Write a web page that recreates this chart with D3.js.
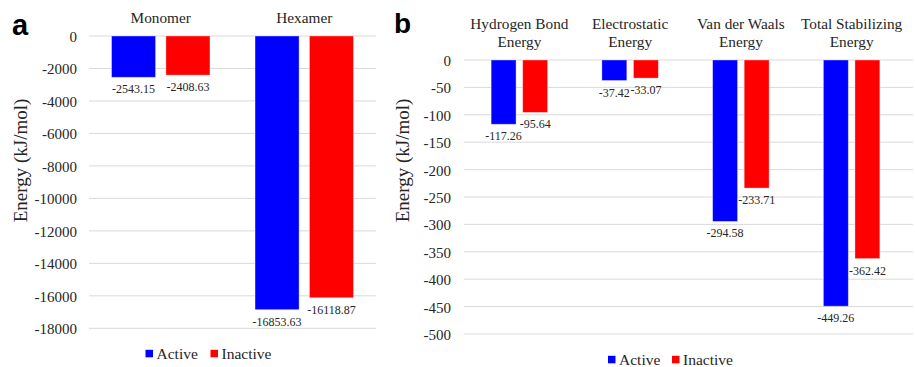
<!DOCTYPE html>
<html>
<head>
<meta charset="utf-8">
<script src="https://cdn.jsdelivr.net/npm/d3@7/dist/d3.min.js"></script>
<style>
  html, body { margin: 0; padding: 0; background: #fff; }
  svg { display: block; }
  svg text { font-family: "Liberation Serif", "Times New Roman", Times, serif; fill: #262626; }
  svg text.panel-tag { font-family: "Liberation Sans", Arial, Helvetica, sans-serif; font-weight: bold; fill: #000; }
</style>
</head>
<body>
<svg id="chart" width="915" height="367"></svg>
<script>
// Series shared by both panels
const series = ["Active", "Inactive"];
const seriesColors = ["#0000ff", "#ff0000"];

// Panel a: total binding energy by oligomeric state
const categoriesA = ["Monomer", "Hexamer"];
const activeA = [-2543.15, -16853.63];
const inactiveA = [-2408.63, -16118.87];
const ticksA = [0, -2000, -4000, -6000, -8000, -10000, -12000, -14000, -16000, -18000];

// Panel b: energy components
const categoriesB = [["Hydrogen Bond", "Energy"], ["Electrostatic", "Energy"], ["Van der Waals", "Energy"], ["Total Stabilizing", "Energy"]];
const activeB = [-117.26, -37.42, -294.58, -449.26];
const inactiveB = [-95.64, -33.07, -233.71, -362.42];
const ticksB = [0, -50, -100, -150, -200, -250, -300, -350, -400, -450, -500];

const svg = d3.select("#chart");
const SERIF = '"Liberation Serif", "Times New Roman", Times, serif';

function drawPanel(cfg) {
  const g = svg.append("g");
  const names = cfg.categories.map(c => Array.isArray(c) ? c.join(" ") : c);

  const y = d3.scaleLinear().domain([0, cfg.ticks[cfg.ticks.length - 1]]).range([cfg.top, cfg.bottom]);
  const x = d3.scaleBand().domain(names).range([cfg.left, cfg.right]).padding(0);
  const bw = x.bandwidth();
  const pad = bw * cfg.groupPad;
  const xs = d3.scaleBand().domain(series).range([pad, bw - pad]).paddingInner(cfg.innerPad).paddingOuter(0);

  // gridlines
  g.append("g").selectAll("line").data(cfg.ticks).join("line")
    .attr("x1", cfg.left).attr("x2", cfg.gridRight)
    .attr("y1", d => y(d)).attr("y2", d => y(d))
    .attr("stroke", "#d9d9d9").attr("stroke-width", 1);

  // y axis labels via d3 axis, domain and tick marks hidden
  const axis = d3.axisLeft(y).tickValues(cfg.ticks).tickFormat(d => String(d)).tickSize(0).tickPadding(0);
  const ag = g.append("g").attr("transform", `translate(${cfg.tickX},0)`).call(axis);
  ag.attr("font-family", null).attr("font-size", null);
  ag.select(".domain").remove();
  ag.selectAll("text").style("font-family", SERIF)
    .style("font-size", "15px").attr("fill", "#262626").attr("dy", "0.36em");

  // axis title
  g.append("text")
    .attr("transform", `translate(${cfg.titleX},${cfg.titleY}) rotate(-90)`)
    .attr("text-anchor", "middle").attr("dy", "0.35em")
    .style("font-size", "19px").text("Energy (kJ/mol)");

  // category headers
  cfg.categories.forEach((c, i) => {
    const lines = Array.isArray(c) ? c : [c];
    const cx = x(names[i]) + bw / 2;
    lines.forEach((ln, j) => {
      g.append("text").attr("x", cx).attr("y", cfg.headerY + j * cfg.headerLH)
        .attr("text-anchor", "middle").style("font-size", "15.3px").text(ln);
    });
  });

  // bars and value labels
  const rows = [];
  names.forEach((n, i) => {
    rows.push({ cat: n, s: "Active", v: cfg.active[i], c: seriesColors[0] });
    rows.push({ cat: n, s: "Inactive", v: cfg.inactive[i], c: seriesColors[1] });
  });

  g.append("g").selectAll("rect").data(rows).join("rect")
    .attr("x", d => x(d.cat) + xs(d.s))
    .attr("width", xs.bandwidth())
    .attr("y", y(0))
    .attr("height", d => y(d.v) - y(0))
    .attr("fill", d => d.c)
    .attr("stroke", "#ffffff").attr("stroke-opacity", 0.45).attr("stroke-width", 0.8);

  g.append("g").selectAll("text").data(rows).join("text")
    .attr("x", d => x(d.cat) + xs(d.s) + xs.bandwidth() / 2)
    .attr("y", d => y(d.v) + 16)
    .attr("text-anchor", "middle").style("font-size", "12px")
    .text(d => d.v.toFixed(2));

  // legend
  const lg = g.append("g").attr("transform", `translate(${cfg.legendX},${cfg.legendY})`);
  const offsets = [0, cfg.legendGap];
  series.forEach((s, i) => {
    lg.append("rect").attr("x", offsets[i]).attr("y", -3.7).attr("width", 7.5).attr("height", 7.5).attr("fill", seriesColors[i]);
    lg.append("text").attr("x", offsets[i] + 11).attr("y", 0).attr("dy", "0.35em")
      .style("font-size", "15.5px").text(s);
  });

  // panel tag
  svg.append("text").attr("class", "panel-tag").attr("x", cfg.tagX).attr("y", cfg.tagY)
    .style("font-size", cfg.tagSize + "px").text(cfg.tag);
}

drawPanel({
  tag: "a", tagX: 12, tagY: 35, tagSize: 29,
  categories: categoriesA, active: activeA, inactive: inactiveA, ticks: ticksA,
  top: 36, bottom: 328.3, left: 89, right: 376, gridRight: 376,
  groupPad: 0.157, innerPad: 0.19,
  tickX: 77, titleX: 20, titleY: 160.5, headerY: 23, headerLH: 18,
  legendX: 145.5, legendY: 353.5, legendGap: 65
});

drawPanel({
  tag: "b", tagX: 394, tagY: 33, tagSize: 28,
  categories: categoriesB, active: activeB, inactive: inactiveB, ticks: ticksB,
  top: 60, bottom: 334, left: 464, right: 907, gridRight: 913,
  groupPad: 0.245, innerPad: 0.21,
  tickX: 451, titleX: 402, titleY: 160.5, headerY: 28.5, headerLH: 18.5,
  legendX: 608, legendY: 359.5, legendGap: 64
});
</script>
</body>
</html>
